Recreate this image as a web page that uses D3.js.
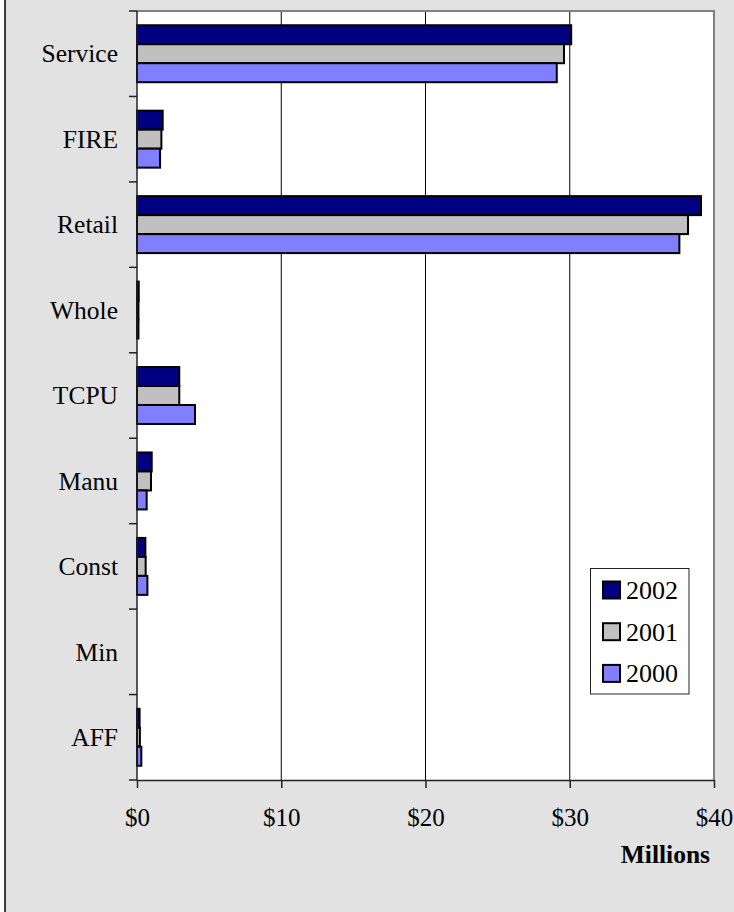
<!DOCTYPE html>
<html>
<head>
<meta charset="utf-8">
<script src="https://cdn.jsdelivr.net/npm/d3@7"></script>
<style>
  html, body { margin: 0; padding: 0; background: #fff; }
  svg { display: block; }
  text { font-family: "Liberation Serif", "Times New Roman", serif; fill: #000; }
</style>
</head>
<body>
<script>
// Sales by industry sector, millions of dollars
const categories = ["Service", "FIRE", "Retail", "Whole", "TCPU", "Manu", "Const", "Min", "AFF"];
const years = ["2002", "2001", "2000"];
const values2002 = [30.1, 1.78, 39.1, 0.12, 2.93, 1.02, 0.58, 0, 0.18];
const values2001 = [29.6, 1.69, 38.2, 0.10, 2.93, 0.97, 0.60, 0, 0.20];
const values2000 = [29.1, 1.60, 37.6, 0.10, 4.02, 0.67, 0.72, 0, 0.30];
const xTicks = [0, 10, 20, 30, 40];
const xTickLabels = ["$0", "$10", "$20", "$30", "$40"];
const seriesColors = ["#000080", "#c0c0c0", "#8080ff"];

const seriesValues = [values2002, values2001, values2000];
const rows = categories.map((c, i) => ({
  category: c,
  values: years.map((y, s) => ({ year: y, value: seriesValues[s][i], s }))
}));

const W = 734, H = 912;
const plot = { left: 137, top: 11, right: 714, bottom: 780 };

const svg = d3.select("body").append("svg").attr("width", W).attr("height", H);

// chart area background and left frame edge
svg.append("rect").attr("x", 0).attr("y", 0).attr("width", W).attr("height", H).attr("fill", "#fff");
svg.append("rect").attr("x", 5).attr("y", 0).attr("width", W - 5).attr("height", H).attr("fill", "#e2e2e2");
svg.append("line").attr("x1", 5).attr("x2", 5).attr("y1", 0).attr("y2", H)
  .attr("stroke", "#000").attr("stroke-width", 1.5);

const x = d3.scaleLinear().domain([0, 40]).range([plot.left, plot.right]);
const y = d3.scaleBand().domain(categories).range([plot.top, plot.bottom])
  .paddingInner(1 / 3).paddingOuter(1 / 6);
const ySub = d3.scaleBand().domain(years).range([0, y.bandwidth()]);
const step = y.step();

// plot area
svg.append("rect")
  .attr("x", plot.left).attr("y", plot.top)
  .attr("width", plot.right - plot.left).attr("height", plot.bottom - plot.top)
  .attr("fill", "#fff");

// vertical gridlines
svg.append("g").selectAll("line").data(xTicks.slice(1, -1)).join("line")
  .attr("x1", d => x(d)).attr("x2", d => x(d))
  .attr("y1", plot.top).attr("y2", plot.bottom)
  .attr("stroke", "#000").attr("stroke-width", 1);

// plot border (top and right)
svg.append("path")
  .attr("d", `M${plot.left},${plot.top}H${plot.right}V${plot.bottom}`)
  .attr("fill", "none").attr("stroke", "#808080").attr("stroke-width", 2);

// bars
const groups = svg.append("g").selectAll("g").data(rows).join("g")
  .attr("transform", d => `translate(0,${y(d.category)})`);
groups.selectAll("rect").data(d => d.values.filter(v => v.value > 0)).join("rect")
  .attr("x", x(0))
  .attr("y", d => ySub(d.year))
  .attr("width", d => x(d.value) - x(0))
  .attr("height", ySub.bandwidth())
  .attr("fill", d => seriesColors[d.s])
  .attr("stroke", "#000").attr("stroke-width", 2);

// category axis: line, boundary ticks, labels
const boundaries = d3.range(categories.length + 1).map(i => plot.top + i * step);
svg.append("line").attr("x1", plot.left).attr("x2", plot.left)
  .attr("y1", plot.top).attr("y2", plot.bottom + 0.5)
  .attr("stroke", "#222").attr("stroke-width", 1.5);
svg.append("g").selectAll("line").data(boundaries).join("line")
  .attr("x1", plot.left - 8).attr("x2", plot.left)
  .attr("y1", d => d).attr("y2", d => d)
  .attr("stroke", "#222").attr("stroke-width", 1.5);
svg.append("g").selectAll("text").data(categories).join("text")
  .attr("x", 118)
  .attr("y", d => y(d) + y.bandwidth() / 2)
  .attr("dy", "0.34em")
  .attr("text-anchor", "end")
  .attr("font-size", 25.5)
  .text(d => d);

// value axis
const xAxis = svg.append("g")
  .attr("transform", `translate(0,${plot.bottom})`)
  .call(d3.axisBottom(x).tickValues(xTicks).tickFormat((d, i) => xTickLabels[i])
    .tickSizeInner(8).tickSizeOuter(0).tickPadding(20));
xAxis.select(".domain").attr("stroke", "#222").attr("stroke-width", 1.5);
xAxis.selectAll(".tick line").attr("stroke", "#222").attr("stroke-width", 1.5);
xAxis.selectAll(".tick text")
  .attr("font-family", "Liberation Serif, Times New Roman, serif")
  .attr("font-size", 25)
  .attr("fill", "#000");

svg.append("text")
  .attr("x", 710).attr("y", 863)
  .attr("text-anchor", "end")
  .attr("font-size", 25.5)
  .attr("font-weight", "bold")
  .text("Millions");

// legend
const legend = svg.append("g");
legend.append("rect")
  .attr("x", 590.5).attr("y", 568.5).attr("width", 98.5).attr("height", 125.5)
  .attr("fill", "#fff").attr("stroke", "#222").attr("stroke-width", 1);
const items = legend.selectAll("g").data(years).join("g")
  .attr("transform", (d, i) => `translate(0,${i * 41.7})`);
items.append("rect")
  .attr("x", 603).attr("y", 581.5).attr("width", 17).attr("height", 17)
  .attr("fill", (d, i) => seriesColors[i])
  .attr("stroke", "#000").attr("stroke-width", 2);
items.append("text")
  .attr("x", 626).attr("y", 599)
  .attr("font-size", 26)
  .text(d => d);
</script>
</body>
</html>
